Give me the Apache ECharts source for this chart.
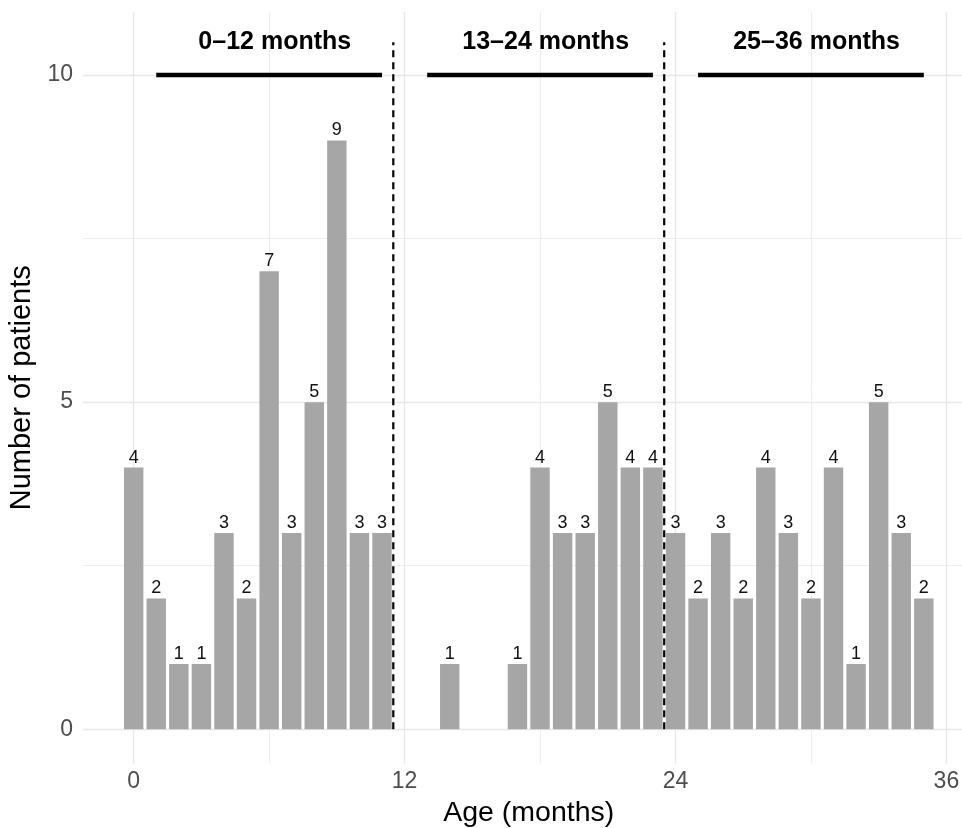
<!DOCTYPE html>
<html><head><meta charset="utf-8">
<script src="https://cdn.jsdelivr.net/npm/echarts@6/dist/echarts.min.js"></script>
<style>html,body{margin:0;padding:0;background:#fff}#c{width:962px;height:828px}</style>
</head><body><div id="c"></div>
<script>
const ages = [0,1,2,3,4,5,6,7,8,9,10,11,12,13,14,15,16,17,18,19,20,21,22,23,24,25,26,27,28,29,30,31,32,33,34,35];
const counts = [4,2,1,1,3,2,7,3,5,9,3,3,0,0,1,0,0,1,4,3,3,5,4,4,3,2,3,2,4,3,2,4,1,5,3,2];
const groupLabels = ['0–12 months','13–24 months','25–36 months'];
const groupLabelX = [6.25,18.25,30.25];
const groupLabelY = 10.5;
const segStart = [1,13,25];
const segEnd = [11,23,35];
const segY = 10;
const cutoffX = [11.5,23.5];
const cutoffTop = 10.5;
const xMajor = [0,12,24,36];
const xMinor = [6,18,30];
const yMajor = [0,5,10];
const yMinor = [2.5,7.5];

const FONT = '"Liberation Sans", Arial, Helvetica, sans-serif';
const XMIN = -2.245, XMAX = 37.245, YMIN = -0.522, YMAX = 10.962;
const BW = 0.86;

const chart = echarts.init(document.getElementById('c'), null, {renderer:'canvas'});

function baseX(ticks, major){
  return {type:'value', min:XMIN, max:XMAX, axisLine:{show:false},
    axisTick:{show:false, customValues:ticks},
    axisLabel:{show:major, customValues:ticks, fontSize:23, color:'#4D4D4D', margin:7, fontFamily:FONT},
    splitLine:{show:true, lineStyle:{color:'#E8E8E8', width: major?1.4:0.8}}};
}
function baseY(ticks, major){
  return {type:'value', min:YMIN, max:YMAX, axisLine:{show:false},
    axisTick:{show:false, customValues:ticks},
    axisLabel:{show:major, customValues:ticks, fontSize:23, color:'#4D4D4D', margin:10, fontFamily:FONT},
    splitLine:{show:true, lineStyle:{color:'#E8E8E8', width: major?1.4:0.8}}};
}
const x0 = baseX(xMajor, true);
x0.name = 'Age (months)'; x0.nameLocation='middle'; x0.nameGap=34;
x0.nameTextStyle = {fontSize:28.5, color:'#000', fontFamily:FONT};
const y0 = baseY(yMajor, true);
y0.name = 'Number of patients'; y0.nameLocation='middle'; y0.nameGap=43;
y0.nameTextStyle = {fontSize:29, color:'#000', fontFamily:FONT};

const option = {
  animation:false,
  grid:{left:83, top:12, width:891.5, height:751.5, outerBoundsMode:'none', containLabel:false},
  xAxis:[x0, baseX(xMinor,false)],
  yAxis:[y0, baseY(yMinor,false)],
  series:[
    {type:'custom', xAxisIndex:0, yAxisIndex:0, z:2,
     data: ages.map((a,i)=>[a,counts[i]]), encode:{x:0,y:1},
     renderItem:function(params, api){
       const v = api.value(1); if(!v) return null;
       const x = api.value(0);
       const p0 = api.coord([x-BW/2, v]);
       const p1 = api.coord([x+BW/2, 0]);
       return {type:'group', children:[
         {type:'rect', shape:{x:p0[0], y:p0[1], width:p1[0]-p0[0], height:p1[1]-p0[1]}, style:{fill:'#A6A6A6'}},
         {type:'text', x:(p0[0]+p1[0])/2, y:p0[1]-1, style:{text:String(v), fill:'#111', fontSize:18, fontFamily:FONT, align:'center', verticalAlign:'bottom'}}
       ]};
     }},
    {type:'custom', xAxisIndex:0, yAxisIndex:0, z:3,
     data: segStart.map((s,i)=>[s, segY, segEnd[i]]), encode:{x:[0,2], y:1},
     renderItem:function(params, api){
       const a = api.coord([api.value(0), api.value(1)]);
       const b = api.coord([api.value(2), api.value(1)]);
       return {type:'line', shape:{x1:a[0], y1:a[1], x2:b[0], y2:b[1]}, style:{stroke:'#000', lineWidth:4.5, lineCap:'butt'}};
     }},
    {type:'custom', xAxisIndex:0, yAxisIndex:0, z:4,
     data: cutoffX.map(c=>[c, 0, cutoffTop]), encode:{x:0, y:[1,2]},
     renderItem:function(params, api){
       const a = api.coord([api.value(0), api.value(1)]);
       const b = api.coord([api.value(0), api.value(2)]);
       return {type:'line', shape:{x1:a[0], y1:a[1], x2:b[0], y2:b[1]}, style:{stroke:'#000', lineWidth:2.2, lineDash:[7,5]}};
     }},
    {type:'custom', xAxisIndex:0, yAxisIndex:0, z:5,
     data: groupLabelX.map(x=>[x, groupLabelY]), encode:{x:0, y:1},
     renderItem:function(params, api){
       const p = api.coord([api.value(0), api.value(1)]);
       return {type:'text', x:p[0], y:p[1], style:{text:groupLabels[params.dataIndex], fill:'#000', fontSize:25, fontWeight:'bold', fontFamily:FONT, align:'center', verticalAlign:'middle'}};
     }}
  ]
};
chart.setOption(option);
</script></body></html>
